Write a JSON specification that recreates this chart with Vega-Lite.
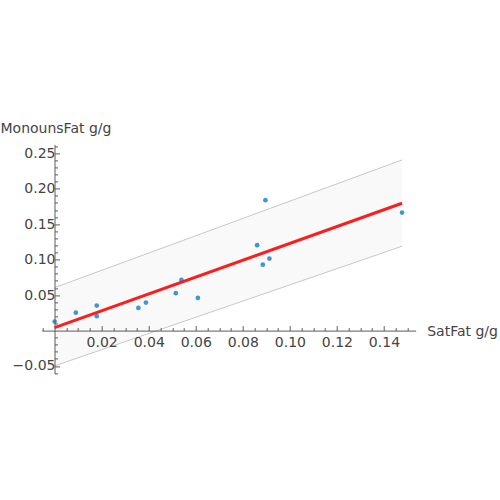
{
  "$schema": "https://vega.github.io/schema/vega-lite/v6.json",
  "width": 374,
  "height": 229,
  "autosize": {"type": "none"},
  "padding": {"left": 41.7, "top": 144.4, "right": 84.3, "bottom": 126.6},
  "background": "white",
  "config": {"view": {"stroke": null}, "font": "DejaVu Sans"},
  "datasets": {
    "points": [
      {"sat": 0.0, "mono": 0.0126},
      {"sat": 0.009, "mono": 0.0252},
      {"sat": 0.0179, "mono": 0.0351},
      {"sat": 0.0179, "mono": 0.0202},
      {"sat": 0.0356, "mono": 0.0319},
      {"sat": 0.0388, "mono": 0.0394},
      {"sat": 0.0515, "mono": 0.0526},
      {"sat": 0.0539, "mono": 0.0714},
      {"sat": 0.0609, "mono": 0.046},
      {"sat": 0.0861, "mono": 0.1203},
      {"sat": 0.0896, "mono": 0.1838},
      {"sat": 0.0885, "mono": 0.0929},
      {"sat": 0.0913, "mono": 0.1014},
      {"sat": 0.1477, "mono": 0.1663}
    ],
    "band": [
      {"x": 0.0, "lo": -0.0499, "hi": 0.0605},
      {"x": 0.1477, "lo": 0.1189, "hi": 0.2406}
    ],
    "fit": [
      {"x": 0.0, "y": 0.0041},
      {"x": 0.1477, "y": 0.1795}
    ]
  },
  "resolve": {"axis": {"x": "independent", "y": "independent"}},
  "layer": [
    {
      "data": {"name": "band"},
      "mark": {"type": "area", "color": "#f9f9f9", "opacity": 1},
      "encoding": {
        "x": {"field": "x", "type": "quantitative",
          "scale": {"domain": [-0.0055, 0.1535], "nice": false, "zero": false},
          "axis": {"orient": "bottom", "offset": -42.8, "title": null, "labels": false, "domain": false,
            "grid": false, "tickSize": -3, "tickColor": "#5c5c5c", "tickWidth": 1, "zindex": 1,
            "values": [-0.005, 0.005, 0.01, 0.015, 0.025, 0.03, 0.035, 0.045, 0.05, 0.055, 0.065, 0.07, 0.075, 0.085, 0.09, 0.095, 0.105, 0.11, 0.115, 0.125, 0.13, 0.135, 0.145, 0.15]}},
        "y": {"field": "lo", "type": "quantitative",
          "scale": {"domain": [-0.0605, 0.2625], "nice": false, "zero": false},
          "axis": {"orient": "left", "offset": -12.8, "title": null, "labels": false, "domain": false,
            "grid": false, "tickSize": -3, "tickColor": "#5c5c5c", "tickWidth": 1, "zindex": 1,
            "values": [-0.06, -0.04, -0.03, -0.02, -0.01, 0.01, 0.02, 0.03, 0.04, 0.06, 0.07, 0.08, 0.09, 0.11, 0.12, 0.13, 0.14, 0.16, 0.17, 0.18, 0.19, 0.21, 0.22, 0.23, 0.24, 0.26]}},
        "y2": {"field": "hi"}
      }
    },
    {
      "data": {"name": "band"},
      "mark": {"type": "line", "color": "#c8c8c8", "strokeWidth": 1},
      "encoding": {
        "x": {"field": "x", "type": "quantitative", "axis": null},
        "y": {"field": "lo", "type": "quantitative", "axis": null}
      }
    },
    {
      "data": {"name": "band"},
      "mark": {"type": "line", "color": "#c8c8c8", "strokeWidth": 1},
      "encoding": {
        "x": {"field": "x", "type": "quantitative", "axis": null},
        "y": {"field": "hi", "type": "quantitative", "axis": null}
      }
    },
    {
      "data": {"name": "points"},
      "mark": {"type": "circle", "color": "#3f97d2", "opacity": 1, "size": 22},
      "encoding": {
        "x": {"field": "sat", "type": "quantitative",
          "axis": {"orient": "bottom", "offset": -42.8, "grid": false, "zindex": 1,
            "values": [0.02, 0.04, 0.06, 0.08, 0.1, 0.12, 0.14], "format": ".2f",
            "domainColor": "#5c5c5c", "domainWidth": 1, "tickColor": "#5c5c5c", "tickWidth": 1, "tickSize": -5,
            "labelFont": "DejaVu Sans", "labelFontSize": 14, "labelColor": "#444444", "labelPadding": 9.5,
            "labelFlush": false, "labelOverlap": false,
            "title": "SatFat g/g", "titleFont": "DejaVu Sans", "titleFontSize": 14, "titleFontWeight": "normal",
            "titleColor": "#444444", "titleAngle": 0, "titleAlign": "left", "titleBaseline": "alphabetic",
            "titleX": 385, "titleY": 4.6}},
        "y": {"field": "mono", "type": "quantitative",
          "axis": {"orient": "left", "offset": -12.8, "grid": false, "zindex": 1,
            "values": [-0.05, 0.05, 0.1, 0.15, 0.2, 0.25], "format": ".2f",
            "domainColor": "#5c5c5c", "domainWidth": 1, "tickColor": "#5c5c5c", "tickWidth": 1, "tickSize": -5,
            "labelFont": "DejaVu Sans", "labelFontSize": 14, "labelColor": "#444444", "labelPadding": 4.5,
            "labelFlush": false, "labelOverlap": false,
            "title": "MonounsFat g/g", "titleFont": "DejaVu Sans", "titleFontSize": 14, "titleFontWeight": "normal",
            "titleColor": "#444444", "titleAngle": 0, "titleAlign": "left", "titleBaseline": "alphabetic",
            "titleX": -54.5, "titleY": -11.7}}
      }
    },
    {
      "data": {"name": "fit"},
      "mark": {"type": "line", "color": "#fa1e1e", "strokeWidth": 3},
      "encoding": {
        "x": {"field": "x", "type": "quantitative", "axis": null},
        "y": {"field": "y", "type": "quantitative", "axis": null}
      }
    }
  ]
}
